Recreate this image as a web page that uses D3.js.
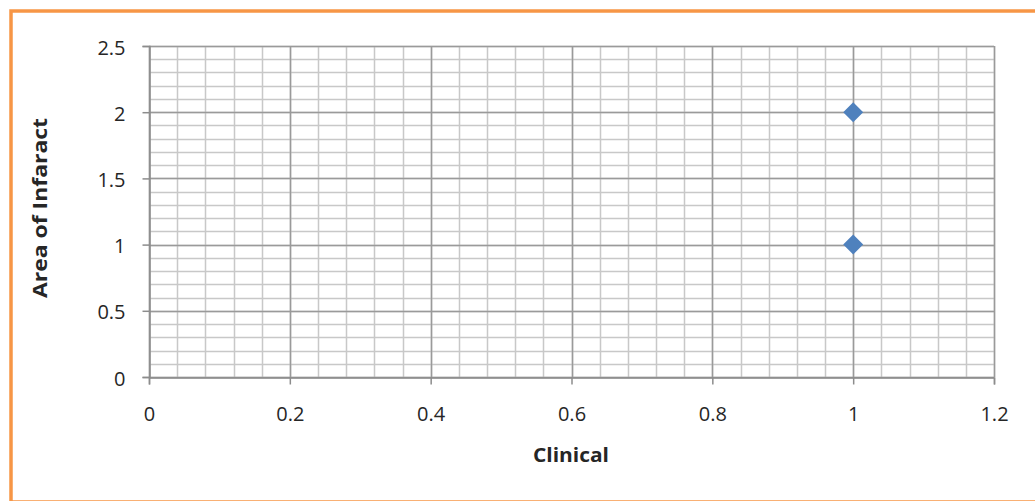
<!DOCTYPE html>
<html>
<head>
<meta charset="utf-8">
<script src="https://cdn.jsdelivr.net/npm/d3@7"></script>
<style>
  html, body { margin: 0; padding: 0; background: #fff; }
  svg { display: block; }
  text { font-family: "Open Sans", "Liberation Sans", sans-serif; fill: #262626; }
</style>
</head>
<body>
<svg id="chart" width="1035" height="501"></svg>
<script>
const xValues = [1, 1];
const yValues = [2, 1];
const xTicks = [0, 0.2, 0.4, 0.6, 0.8, 1, 1.2];
const yTicks = [0, 0.5, 1, 1.5, 2, 2.5];
const xTitle = "Clinical";
const yTitle = "Area of Infaract";

const svg = d3.select("#chart");
const W = 1035, H = 501;
const pL = 149, pR = 994, pT = 46, pB = 377;

const x = d3.scaleLinear().domain([0, 1.2]).range([pL, pR]);
const y = d3.scaleLinear().domain([0, 2.5]).range([pB, pT]);

// outer orange frame
svg.append("rect")
  .attr("x", 11).attr("y", 11).attr("width", W + 20).attr("height", 491)
  .attr("fill", "none").attr("stroke", "#F79646").attr("stroke-width", 3.5);

const g = svg.append("g");

// minor gridlines
const xMinor = d3.range(0, 1.2001, 0.04);
const yMinor = d3.range(0, 2.5001, 0.1);
g.selectAll(".xminor").data(xMinor).join("line")
  .attr("x1", d => Math.round(x(d)) + 0.5).attr("x2", d => Math.round(x(d)) + 0.5)
  .attr("y1", pT).attr("y2", pB)
  .attr("stroke", "#c8c8c8").attr("stroke-width", 1.5);
g.selectAll(".yminor").data(yMinor).join("line")
  .attr("y1", d => Math.round(y(d)) + 0.5).attr("y2", d => Math.round(y(d)) + 0.5)
  .attr("x1", pL).attr("x2", pR)
  .attr("stroke", "#c8c8c8").attr("stroke-width", 1.5);

// major gridlines
g.selectAll(".xmajor").data(xTicks).join("line")
  .attr("x1", d => Math.round(x(d)) + 0.5).attr("x2", d => Math.round(x(d)) + 0.5)
  .attr("y1", pT).attr("y2", pB)
  .attr("stroke", "#9a9a9a").attr("stroke-width", 1.5);
g.selectAll(".ymajor").data(yTicks).join("line")
  .attr("y1", d => Math.round(y(d)) + 0.5).attr("y2", d => Math.round(y(d)) + 0.5)
  .attr("x1", pL).attr("x2", pR)
  .attr("stroke", "#9a9a9a").attr("stroke-width", 1.5);

// axes
const xAxis = d3.axisBottom(x).tickValues(xTicks).tickSize(7).tickPadding(36).tickFormat(d3.format("~g"));
const yAxis = d3.axisLeft(y).tickValues(yTicks).tickSize(7).tickPadding(17).tickFormat(d3.format("~g"));

const gx = svg.append("g").attr("transform", `translate(0,${pB + 0.5})`).call(xAxis);
const gy = svg.append("g").attr("transform", `translate(${pL + 0.5},0)`).call(yAxis);
[gx, gy].forEach(a => {
  a.select(".domain").attr("stroke", "#8c8c8c").attr("stroke-width", 1.5);
  a.selectAll(".tick line").attr("stroke", "#8c8c8c").attr("stroke-width", 1.5);
  a.selectAll(".tick text").style("font-size", "20px").attr("fill", "#262626");
});
gx.selectAll(".tick text").attr("dy", "0");
gy.selectAll(".tick text").attr("dy", "0.4em");

// points
const pts = xValues.map((v, i) => ({ x: v, y: yValues[i] }));
svg.selectAll(".pt").data(pts).join("path")
  .attr("d", d3.symbol(d3.symbolSquare, 200))
  .attr("transform", d => `translate(${x(d.x)},${y(d.y)}) rotate(45)`)
  .attr("fill", "#4F81BD");

// titles
svg.append("text").attr("x", 571).attr("y", 462)
  .attr("text-anchor", "middle").style("font-size", "20px").style("font-weight", "bold")
  .attr("textLength", 76).attr("lengthAdjust", "spacingAndGlyphs")
  .text(xTitle);
svg.append("text").attr("transform", `translate(47,208) rotate(-90)`)
  .attr("text-anchor", "middle").style("font-size", "20px").style("font-weight", "bold")
  .attr("textLength", 180).attr("lengthAdjust", "spacingAndGlyphs")
  .text(yTitle);
</script>
</body>
</html>
